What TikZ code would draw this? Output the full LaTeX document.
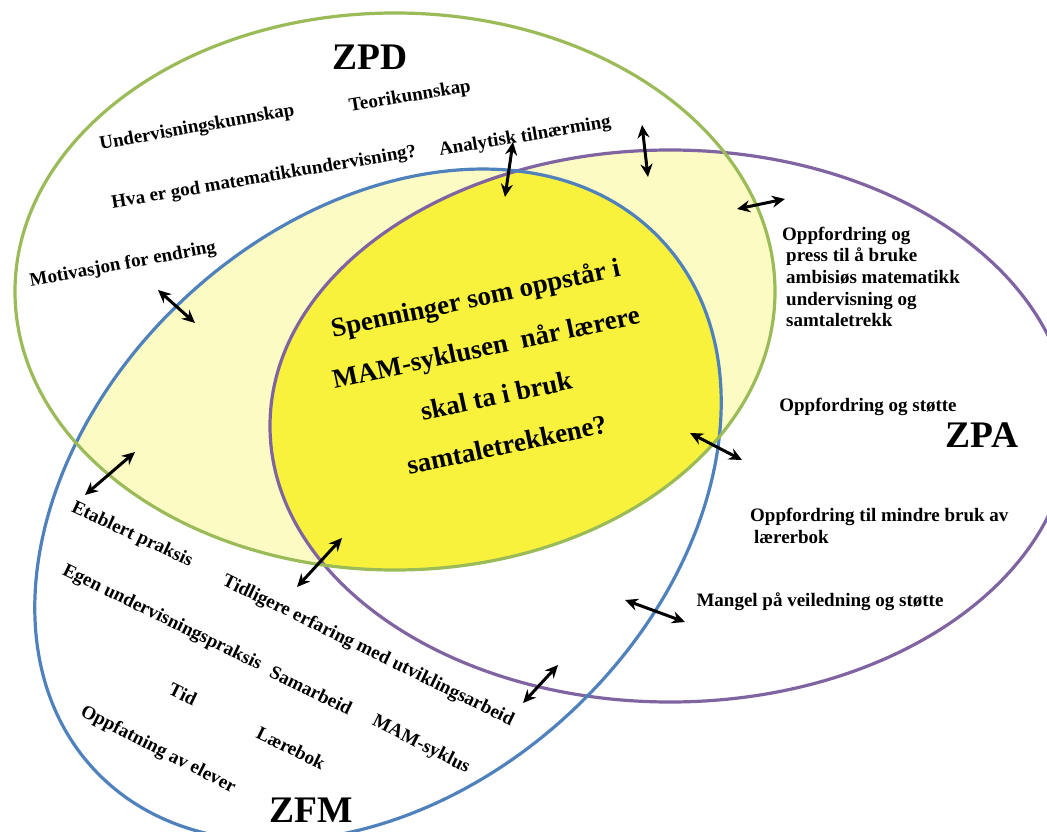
\documentclass[tikz,border=0pt]{standalone}
\usepackage{fontspec}
\setmainfont{Liberation Serif}
\usetikzlibrary{arrows.meta}
\definecolor{zpdgreen}{RGB}{155,187,89}
\definecolor{zfmblue}{RGB}{79,129,189}
\definecolor{zpapurple}{RGB}{128,100,162}
\definecolor{paleyellow}{RGB}{252,251,196}
\definecolor{coreyellow}{RGB}{248,242,60}
\begin{document}
\begin{tikzpicture}[x=1pt, y=-1pt,
  zone/.style={line width=3.2pt},
  lbl/.style={font=\fontsize{19}{21.7}\selectfont\bfseries, inner sep=0pt, align=left},
  zonename/.style={font=\fontsize{37.5}{40}\selectfont\bfseries, inner sep=0pt},
  twoway/.style={{Stealth[length=13pt,width=12pt]}-{Stealth[length=13pt,width=12pt]}, line width=3pt}]
\useasboundingbox (0,0) rectangle (1047,832);
\fill[white] (0,0) rectangle (1047,832);
% overlapping zones
\begin{scope}
  \clip (395,291.5) ellipse [x radius=380pt, y radius=278.5pt];
  \fill[paleyellow] (670,426) ellipse [x radius=400pt, y radius=276pt];
  \fill[paleyellow, rotate around={43:(378,505)}] (378,505) ellipse [x radius=388pt, y radius=283pt];
  \clip[rotate around={43:(378,505)}] (378,505) ellipse [x radius=388pt, y radius=283pt];
  \fill[coreyellow] (670,426) ellipse [x radius=400pt, y radius=276pt];
\end{scope}
\draw[zone,zpapurple] (670,426) ellipse [x radius=400pt, y radius=276pt];
\draw[zone,zfmblue,rotate around={43:(378,505)}] (378,505) ellipse [x radius=388pt, y radius=283pt];
\draw[zone,zpdgreen] (395,291.5) ellipse [x radius=380pt, y radius=278.5pt];
% zone names
\node[zonename] (zpd) at (370,57) {ZPD};
\node[zonename] (zpa) at (982,435) {ZPA};
\node[zonename] (zfm) at (311,810) {ZFM};
% ZPD
\node[lbl,rotate=10] (undkunn) at (197,128) {Undervisningskunnskap};
\node[lbl,rotate=9.5] (teori) at (410,97) {Teorikunnskap};
\node[lbl,rotate=9.7] (godmat) at (264,178) {Hva er god matematikkundervisning?};
\node[lbl,rotate=9.5] (analyt) at (525,137) {Analytisk tilnærming};
\node[lbl,rotate=10.5] (motiv) at (123,265) {Motivasjon for endring};
% ZPA
\node[lbl,anchor=west] (press) at (786,277) {\hspace*{-4pt}Oppfordring og\\press til å bruke\\ambisiøs matematikk\\undervisning og\\samtaletrekk};
\node[lbl] (stotte) at (868,407) {Oppfordring og støtte};
\node[lbl,anchor=west] (mindre) at (750,526) {Oppfordring til mindre bruk av\\\hspace*{4pt}lærerbok};
\node[lbl] (mangel) at (820,602) {Mangel på veiledning og støtte};
% ZFM
\node[lbl,rotate=-25] (etabl) at (132,535) {Etablert praksis};
\node[lbl,rotate=-26] (egen) at (162,618) {Egen undervisningspraksis};
\node[lbl,rotate=-26] (tidl) at (368,651) {Tidligere erfaring med utviklingsarbeid};
\node[lbl,rotate=-26] (samarb) at (311,690) {Samarbeid};
\node[lbl,rotate=-26] (tid) at (183,694) {Tid};
\node[lbl,rotate=-26] (laerebok) at (291,748) {Lærebok};
\node[lbl,rotate=-27] (mamsyk) at (421,745) {MAM-syklus};
\node[lbl,rotate=-27] (oppfat) at (158,750) {Oppfatning av elever};
% centre question
\node[font=\fontsize{27}{50}\selectfont\bfseries, align=center, inner sep=0pt, rotate=12] (spenn) at (491,371)
  {Spenninger som oppstår i\\MAM-syklusen\ \ når lærere\\skal ta i bruk\\samtaletrekkene?};
% tension arrows
\foreach \i/\xa/\ya/\xb/\yb in {1/158/290/195/323, 2/513/142/505/197, 3/642/125/648/177,
  4/737/209/785/199, 5/690/433/742/460, 6/625/600/685/622, 7/558/665/523/703,
  8/135/452/85/495, 9/342/538/297/587}{
  \coordinate (t\i a) at (\xa,\ya);
  \coordinate (t\i b) at (\xb,\yb);
  \draw[twoway] (t\i a) -- (t\i b);
}
\end{tikzpicture}
\end{document}
